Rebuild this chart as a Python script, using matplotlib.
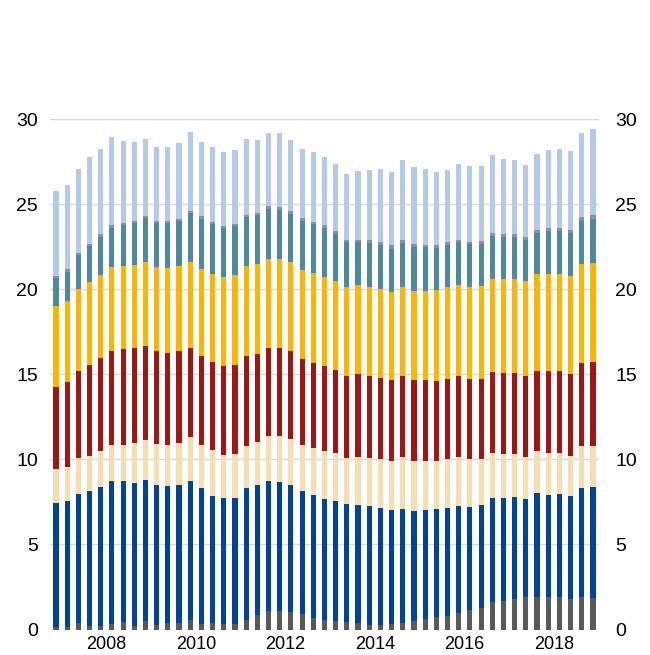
import numpy as np
import matplotlib
matplotlib.use("Agg")
import matplotlib.pyplot as plt

plt.rcParams['font.family'] = ['Liberation Sans', 'DejaVu Sans']

# quarterly observations, 2007 Q2 .. 2019 Q2
quarters = [f"{y}Q{q}" for y in range(2007, 2020) for q in range(1, 5)][1:50]

# cumulative level of the top of each layer
top_gray = [0.16, 0.16, 0.37, 0.22, 0.20, 0.33, 0.43, 0.22, 0.51, 0.27, 0.37, 0.39, 0.55, 0.31, 0.37, 0.31, 0.31,
            0.57, 0.84, 1.10, 1.10, 1.04, 0.92, 0.69, 0.57, 0.49, 0.43, 0.39, 0.27, 0.27, 0.33, 0.39, 0.49,
            0.61, 0.75, 0.80, 0.98, 1.14, 1.27, 1.63, 1.69, 1.80, 1.90, 1.90, 1.90, 1.92, 1.80, 1.92, 1.84]
top_blue = [7.41, 7.57, 7.98, 8.12, 8.37, 8.71, 8.71, 8.63, 8.78, 8.51, 8.45, 8.51, 8.71, 8.29, 7.84, 7.73, 7.73,
            8.29, 8.49, 8.75, 8.67, 8.49, 8.14, 7.92, 7.69, 7.57, 7.35, 7.31, 7.24, 7.16, 7.02, 7.10, 6.98,
            7.02, 7.10, 7.16, 7.25, 7.22, 7.31, 7.73, 7.73, 7.80, 7.69, 8.04, 7.92, 7.96, 7.82, 8.33, 8.37]
top_wheat = [9.44, 9.54, 10.07, 10.21, 10.52, 10.83, 10.87, 10.95, 11.15, 10.91, 10.87, 10.97, 11.32, 10.87, 10.54, 10.28, 10.34,
             10.81, 11.01, 11.36, 11.36, 11.21, 10.87, 10.68, 10.52, 10.38, 10.07, 10.13, 10.09, 10.03, 9.93, 10.11, 9.89,
             9.93, 9.93, 10.03, 10.15, 10.01, 10.01, 10.38, 10.34, 10.34, 10.15, 10.50, 10.38, 10.38, 10.22, 10.81, 10.81]
top_red = [14.28, 14.52, 15.21, 15.56, 15.97, 16.38, 16.46, 16.54, 16.69, 16.38, 16.26, 16.38, 16.52, 16.05, 15.75, 15.48, 15.56,
           16.05, 16.19, 16.52, 16.52, 16.34, 15.89, 15.66, 15.48, 15.28, 14.91, 14.99, 14.89, 14.81, 14.64, 14.87, 14.64,
           14.64, 14.62, 14.75, 14.87, 14.72, 14.70, 15.15, 15.05, 15.05, 14.87, 15.22, 15.17, 15.17, 15.01, 15.66, 15.70]
top_yellow = [18.99, 19.30, 20.03, 20.44, 20.85, 21.28, 21.38, 21.42, 21.62, 21.30, 21.22, 21.38, 21.62, 21.19, 20.91, 20.70, 20.85,
              21.34, 21.46, 21.79, 21.79, 21.60, 21.15, 20.93, 20.70, 20.50, 20.15, 20.22, 20.13, 20.03, 19.85, 20.11, 19.91,
              19.91, 19.95, 20.11, 20.22, 20.11, 20.17, 20.62, 20.62, 20.62, 20.50, 20.91, 20.87, 20.91, 20.79, 21.46, 21.54]
top_teal = [20.66, 21.03, 22.01, 22.52, 23.07, 23.60, 23.75, 23.87, 24.17, 23.87, 23.87, 23.99, 24.46, 24.13, 23.81, 23.58, 23.69,
            24.22, 24.34, 24.72, 24.68, 24.44, 24.01, 23.81, 23.58, 23.25, 22.75, 22.75, 22.71, 22.58, 22.38, 22.69, 22.46,
            22.46, 22.42, 22.60, 22.75, 22.64, 22.68, 23.15, 23.09, 23.09, 22.89, 23.28, 23.40, 23.42, 23.31, 24.01, 24.11]
top_purple = [20.80, 21.17, 22.15, 22.67, 23.22, 23.76, 23.90, 24.02, 24.32, 24.02, 24.02, 24.14, 24.62, 24.28, 23.96, 23.73, 23.84,
              24.38, 24.48, 24.88, 24.82, 24.58, 24.19, 23.97, 23.76, 23.41, 22.89, 22.91, 22.89, 22.76, 22.60, 22.87, 22.66,
              22.60, 22.58, 22.78, 22.89, 22.80, 22.82, 23.33, 23.27, 23.23, 23.07, 23.50, 23.58, 23.62, 23.49, 24.23, 24.35]
top_lightblue = [25.75, 26.10, 27.09, 27.75, 28.21, 28.97, 28.72, 28.64, 28.81, 28.34, 28.34, 28.60, 29.26, 28.66, 28.34, 28.07, 28.17,
                 28.85, 28.78, 29.17, 29.17, 28.79, 28.21, 28.07, 27.79, 27.34, 26.78, 26.97, 27.01, 27.09, 26.91, 27.62, 27.19,
                 27.09, 26.91, 27.03, 27.38, 27.22, 27.22, 27.91, 27.64, 27.60, 27.30, 27.95, 28.17, 28.26, 28.13, 29.15, 29.42]

colors = ["#595959", "#00449A", "#F6DEB3", "#A21515", "#FFB500", "#4E8A99", "#8A8CC0", "#B3CAEB"]

tops = np.array([top_gray, top_blue, top_wheat, top_red, top_yellow, top_teal, top_purple, top_lightblue])
bottoms = np.vstack([np.zeros(len(quarters)), tops[:-1]])
heights = tops - bottoms

x = np.arange(len(quarters))

fig = plt.figure(figsize=(6.5, 6.55), dpi=100)
ax = fig.add_axes([0.0775, 0.0389, 0.8434, 0.7794])

for h, b, c in zip(heights, bottoms, colors):
    ax.bar(x, h, bottom=b, width=0.46, color=c, edgecolor="none", zorder=3)

ax.set_ylim(0, 30)
ax.set_xlim(-0.5, len(quarters) - 0.5)
ax.set_yticks(range(0, 31, 5))
ax.yaxis.grid(True, color="#D9D9D9", linewidth=1.0, zorder=0)
ax.set_axisbelow(True)

years = [q[:4] for q in quarters]
label_years = [str(y) for y in range(2008, 2019, 2)]
label_pos = [np.mean([i for i, yy in enumerate(years) if yy == ly]) for ly in label_years]
ax.set_xticks(label_pos)
ax.set_xticklabels(label_years, fontsize=13)
ax.tick_params(axis="x", length=0, pad=5)
ax.tick_params(axis="y", length=0, pad=9, labelsize=14)

for s in ax.spines.values():
    s.set_visible(False)

ax2 = ax.twinx()
ax2.set_ylim(ax.get_ylim())
ax2.set_yticks(range(0, 31, 5))
ax2.tick_params(axis="y", length=0, pad=12, labelsize=14)
for s in ax2.spines.values():
    s.set_visible(False)

fig.savefig("out.png", dpi=100)
